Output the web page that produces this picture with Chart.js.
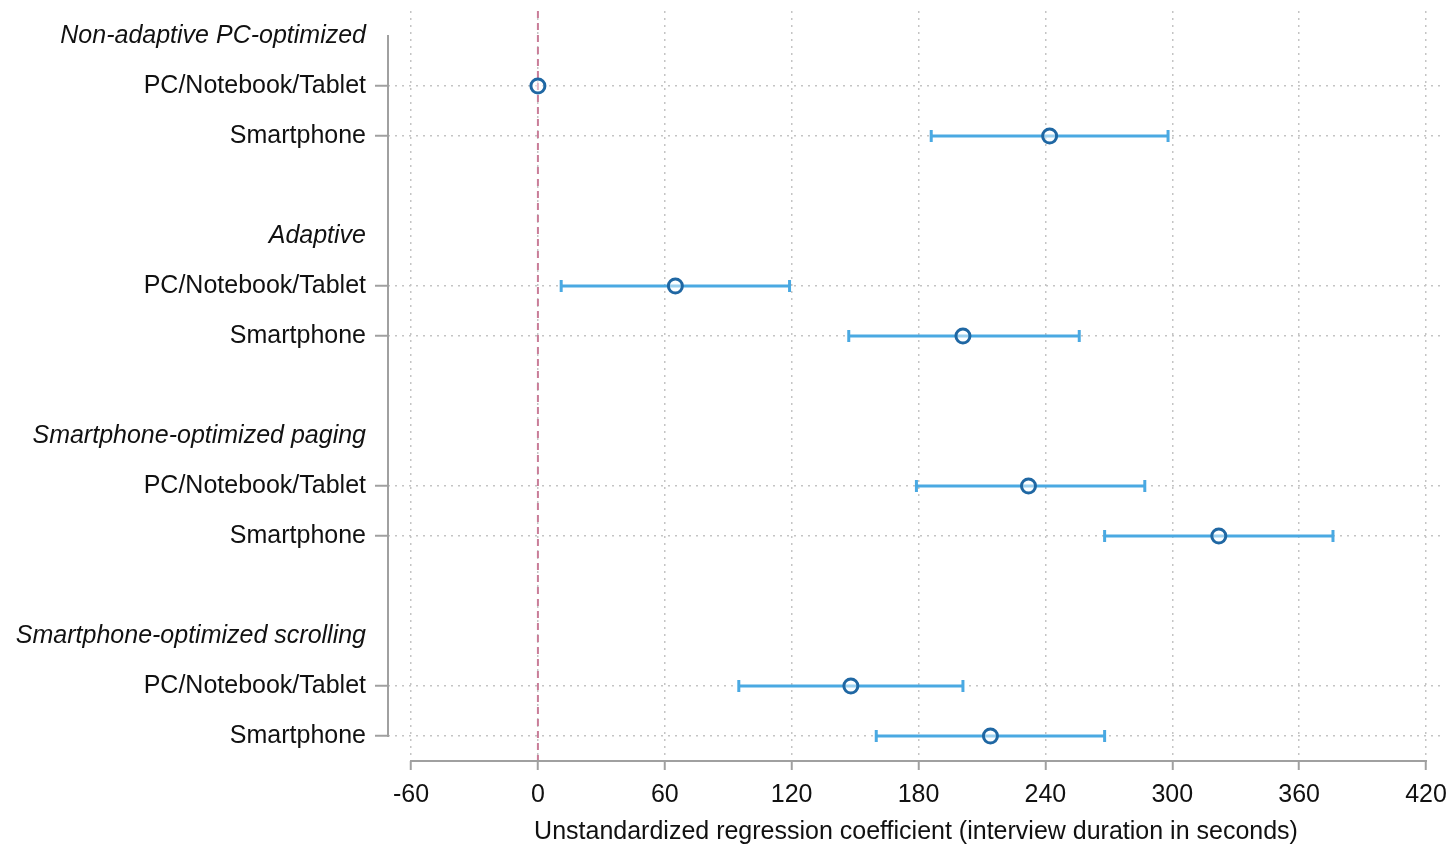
<!DOCTYPE html>
<html>
<head>
<meta charset="utf-8">
<script src="https://cdn.jsdelivr.net/npm/chart.js@4/dist/chart.umd.min.js"></script>
<style>
  html, body { margin: 0; padding: 0; background: #fff; }
  #wrap { width: 1454px; height: 847px; }
</style>
</head>
<body>
<div id="wrap"><canvas id="chart"></canvas></div>
<script>
// data
const groups = ['Non-adaptive PC-optimized', 'Adaptive', 'Smartphone-optimized paging', 'Smartphone-optimized scrolling'];
const devices = ['PC/Notebook/Tablet', 'Smartphone'];
const estimates = [0, 242, 65, 201, 232, 322, 148, 214];
const ciLow = [0, 186, 11, 147, 179, 268, 95, 160];
const ciHigh = [0, 298, 119, 256, 287, 376, 201, 268];
const xTicks = [-60, 0, 60, 120, 180, 240, 300, 360, 420];
const xTitle = 'Unstandardized regression coefficient (interview duration in seconds)';

const FONT = '"Liberation Sans", Arial, sans-serif';
const FSIZE = 25;

// rows: header, item, item, blank ... (last group has no trailing blank)
const rowLabels = [];
const rowKind = [];
const itemRow = [];
groups.forEach((g, gi) => {
    rowLabels.push(g); rowKind.push('head');
    devices.forEach(d => {
        itemRow.push(rowLabels.length);
        rowLabels.push(d); rowKind.push('item');
    });
    if (gi < groups.length - 1) { rowLabels.push(''); rowKind.push('blank'); }
});
const nRows = rowLabels.length;

const kindOf = c => (c && c.tick) ? rowKind[c.tick.value] : 'item';

const pointData = estimates.map((v, i) => ({ x: v, y: itemRow[i] }));
const ciData = [];
estimates.forEach((v, i) => {
    if (ciLow[i] === ciHigh[i]) return;
    ciData.push({ x: ciLow[i], y: itemRow[i] }, { x: ciHigh[i], y: itemRow[i] }, { x: null, y: null });
});

// Stata-style axis lines that stop at the first and last tick
const axisLines = {
    id: 'axisLines',
    afterDatasetsDraw(chart) {
        const { ctx, chartArea, scales: { x, y } } = chart;
        ctx.save();
        ctx.strokeStyle = '#a0a0a0';
        ctx.lineWidth = 2;
        ctx.beginPath();
        ctx.moveTo(x.getPixelForValue(xTicks[0]) - 1, chartArea.bottom);
        ctx.lineTo(x.getPixelForValue(xTicks[xTicks.length - 1]) + 1, chartArea.bottom);
        ctx.moveTo(chartArea.left, y.getPixelForValue(0) - 1);
        ctx.lineTo(chartArea.left, y.getPixelForValue(nRows - 1) + 1);
        ctx.stroke();
        ctx.restore();
    }
};

new Chart(document.getElementById('chart'), {
    type: 'scatter',
    data: {
        datasets: [
            {
                type: 'scatter',
                data: pointData,
                pointStyle: 'circle',
                pointRadius: 7,
                pointBorderWidth: 3,
                borderColor: '#1f67a3',
                backgroundColor: 'rgba(255,255,255,0.45)',
                order: 0
            },
            {
                type: 'line',
                data: ciData,
                borderColor: '#4aa9e2',
                borderWidth: 3,
                spanGaps: false,
                pointStyle: 'line',
                pointRotation: 90,
                pointRadius: 6,
                pointBorderWidth: 3,
                pointBorderColor: '#4aa9e2',
                order: 1
            },
            {
                type: 'line',
                data: [{ x: 0, y: -0.5 }, { x: 0, y: nRows - 0.5 }],
                borderColor: '#c97d98',
                borderWidth: 2,
                borderDash: [7, 5],
                pointRadius: 0,
                order: 2
            }
        ]
    },
    options: {
        responsive: true,
        maintainAspectRatio: false,
        animation: false,
        layout: { padding: { top: 11, right: 4, left: 0, bottom: 0 } },
        plugins: { legend: { display: false }, tooltip: { enabled: false } },
        scales: {
            x: {
                type: 'linear',
                min: -70.9,
                max: 428.5,
                afterBuildTicks: s => { s.ticks = xTicks.map(v => ({ value: v })); },
                afterFit: s => { s.height = 86; s.paddingLeft = 0; s.paddingRight = 0; },
                border: { display: false, dash: [2, 5] },
                grid: {
                    color: '#c4c4c4',
                    lineWidth: 1.5,
                    tickLength: 9,
                    tickColor: '#a0a0a0',
                    tickWidth: 2,
                    tickBorderDash: []
                },
                ticks: {
                    color: '#111',
                    padding: 10,
                    maxRotation: 0,
                    font: { family: FONT, size: FSIZE }
                },
                title: {
                    display: true,
                    text: xTitle,
                    color: '#111',
                    font: { family: FONT, size: FSIZE },
                    padding: { top: 4, bottom: 0 }
                }
            },
            y: {
                type: 'linear',
                reverse: true,
                min: -0.5,
                max: nRows - 0.5,
                afterBuildTicks: s => { s.ticks = rowLabels.map((l, i) => ({ value: i })); },
                afterFit: s => { s.width = 388; s.paddingTop = 0; s.paddingBottom = 0; },
                border: { display: false, dash: [2, 5] },
                grid: {
                    color: c => kindOf(c) === 'item' ? '#c4c4c4' : 'transparent',
                    lineWidth: 1.5,
                    tickLength: 13,
                    tickColor: c => kindOf(c) === 'item' ? '#a0a0a0' : 'transparent',
                    tickWidth: 2,
                    tickBorderDash: []
                },
                ticks: {
                    color: '#111',
                    padding: 9,
                    callback: v => rowLabels[v],
                    font: c => ({ family: FONT, size: FSIZE, style: kindOf(c) === 'head' ? 'italic' : 'normal' })
                }
            }
        }
    },
    plugins: [axisLines]
});
</script>
</body>
</html>
